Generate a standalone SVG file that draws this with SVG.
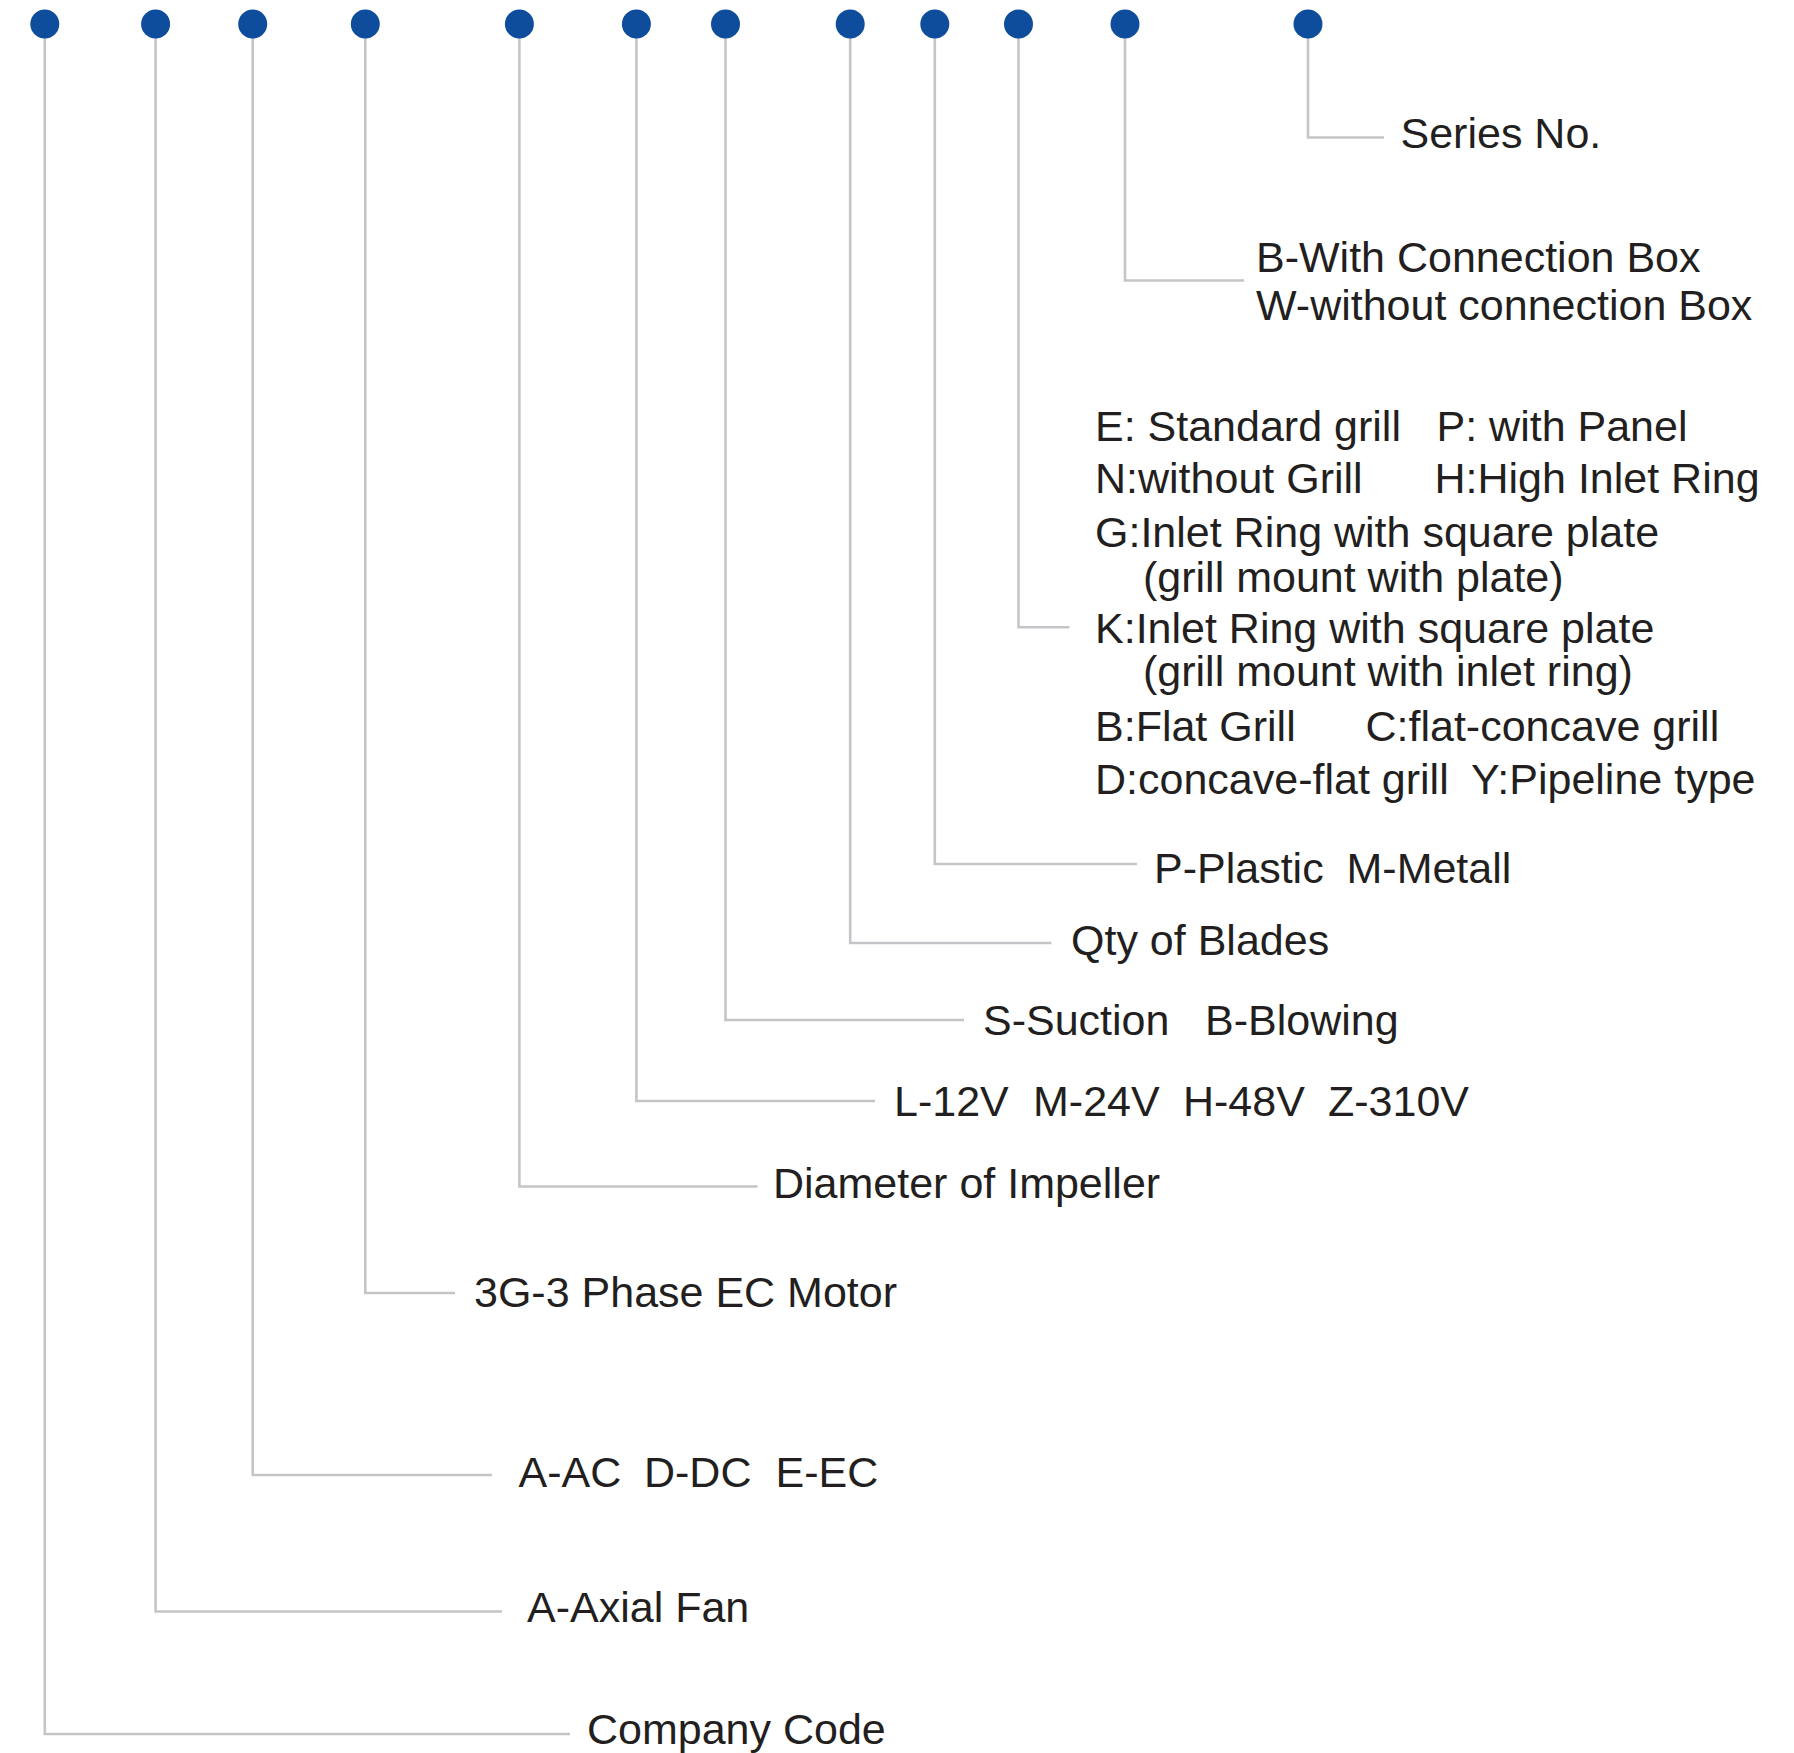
<svg xmlns="http://www.w3.org/2000/svg" width="1794" height="1753" viewBox="0 0 1794 1753">
<style>
.c{fill:none;stroke:#c5c5c9;stroke-width:2.6}
.d{fill:#0e4c9c}
.t{font-family:"Liberation Sans",Arial,sans-serif;font-size:43px;fill:#231f20}
</style>
<rect width="1794" height="1753" fill="#ffffff"/>
<g id="connectors">
<path class="c" d="M44.8,24 V1734 H570"/>
<path class="c" d="M155.6,24 V1611.5 H502"/>
<path class="c" d="M252.7,24 V1475 H492"/>
<path class="c" d="M365.3,24 V1293 H455"/>
<path class="c" d="M519.4,24 V1186.5 H757.5"/>
<path class="c" d="M636.4,24 V1101 H875"/>
<path class="c" d="M725.5,24 V1020 H964"/>
<path class="c" d="M850.2,24 V943 H1051.5"/>
<path class="c" d="M934.8,24 V864 H1137"/>
<path class="c" d="M1018.5,24 V627.3 H1069.5"/>
<path class="c" d="M1125,24 V280.5 H1244"/>
<path class="c" d="M1308,24 V137.5 H1384"/>
</g>
<g id="n1"><circle class="d" cx="44.8" cy="24" r="14.5"/><text class="t" x="587" y="1744">Company Code</text></g>
<g id="n2"><circle class="d" cx="155.6" cy="24" r="14.5"/><text class="t" x="527" y="1621.5">A-Axial Fan</text></g>
<g id="n3"><circle class="d" cx="252.7" cy="24" r="14.5"/><text class="t" y="1487"><tspan x="518.5">A-AC</tspan><tspan x="644">D-DC</tspan><tspan x="775.5">E-EC</tspan></text></g>
<g id="n4"><circle class="d" cx="365.3" cy="24" r="14.5"/><text class="t" x="474" y="1307">3G-3 Phase EC Motor</text></g>
<g id="n5"><circle class="d" cx="519.4" cy="24" r="14.5"/><text class="t" x="773" y="1197.5">Diameter of Impeller</text></g>
<g id="n6"><circle class="d" cx="636.4" cy="24" r="14.5"/><text class="t" y="1116"><tspan x="894">L-12V</tspan><tspan x="1033">M-24V</tspan><tspan x="1183">H-48V</tspan><tspan x="1328">Z-310V</tspan></text></g>
<g id="n7"><circle class="d" cx="725.5" cy="24" r="14.5"/><text class="t" y="1035"><tspan x="983">S-Suction</tspan><tspan x="1205">B-Blowing</tspan></text></g>
<g id="n8"><circle class="d" cx="850.2" cy="24" r="14.5"/><text class="t" x="1071" y="954.5">Qty of Blades</text></g>
<g id="n9"><circle class="d" cx="934.8" cy="24" r="14.5"/><text class="t" y="882.5"><tspan x="1154">P-Plastic</tspan><tspan x="1346.5">M-Metall</tspan></text></g>
<g id="n10"><circle class="d" cx="1018.5" cy="24" r="14.5"/>
<text class="t" y="440.5"><tspan x="1095">E: Standard grill</tspan><tspan x="1436.5">P: with Panel</tspan></text>
<text class="t" y="492.5"><tspan x="1095">N:without Grill</tspan><tspan x="1434.5">H:High Inlet Ring</tspan></text>
<text class="t" x="1095" y="546.5">G:Inlet Ring with square plate</text>
<text class="t" x="1143" y="592">(grill mount with plate)</text>
<text class="t" x="1095" y="643">K:Inlet Ring with square plate</text>
<text class="t" x="1143" y="686">(grill mount with inlet ring)</text>
<text class="t" y="740.5"><tspan x="1095">B:Flat Grill</tspan><tspan x="1365.5">C:flat-concave grill</tspan></text>
<text class="t" y="793.5"><tspan x="1095">D:concave-flat grill</tspan><tspan x="1471">Y:Pipeline type</tspan></text>
</g>
<g id="n11"><circle class="d" cx="1125" cy="24" r="14.5"/>
<text class="t" x="1256" y="272">B-With Connection Box</text>
<text class="t" x="1256" y="320">W-without connection Box</text>
</g>
<g id="n12"><circle class="d" cx="1308" cy="24" r="14.5"/><text class="t" x="1400.5" y="147.5">Series No.</text></g>
</svg>
